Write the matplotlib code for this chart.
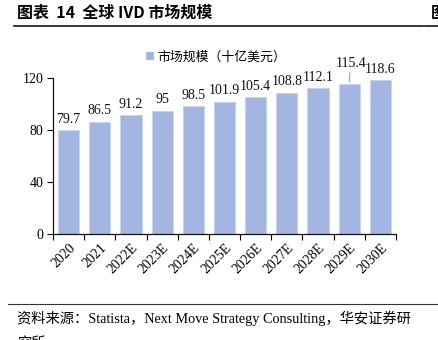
import matplotlib.pyplot as plt
from matplotlib.lines import Line2D
from matplotlib.patches import Patch

# =====================================================
# DATA
# =====================================================

years = ["2020", "2021", "2022E", "2023E", "2024E", "2025E",
         "2026E", "2027E", "2028E", "2029E", "2030E"]
market_size = [79.7, 86.5, 91.2, 95, 98.5, 101.9,
               105.4, 108.8, 112.1, 115.4, 118.6]
value_labels = ["79.7", "86.5", "91.2", "95", "98.5", "101.9",
                "105.4", "108.8", "112.1", "115.4", "118.6"]
y_ticks = [0, 40, 80, 120]

title_text = "图表  14  全球 IVD 市场规模"
legend_text = "市场规模（十亿美元）"
source_text = "资料来源：Statista，Next Move Strategy Consulting，华安证券研"
source_text_2 = "究所"

# =====================================================
# STYLE
# =====================================================

mixed_font = ["Liberation Serif", "Noto Sans CJK SC"]
cjk_font = ["Noto Sans CJK SC", "Liberation Serif"]
bar_color = "#A3B6E1"
W, H = 439, 340

fig = plt.figure(figsize=(W / 100, H / 100), dpi=100)
ax = fig.add_axes([53 / W, 1 - 234 / H, (396 - 53) / W, (234 - 78) / H])

x = list(range(len(years)))
ax.bar(x, market_size, width=0.68, color=bar_color,
       edgecolor="#C4D2EE", linewidth=0.6, zorder=2)

# value labels
for i, (v, lab) in enumerate(zip(market_size, value_labels)):
    if i == 9:
        ax.annotate(lab, xy=(i, v + 1.5), xytext=(1, 9),
                    textcoords="offset points", ha="center", va="bottom",
                    fontsize=10, family=mixed_font, color="#111111",
                    arrowprops=dict(arrowstyle="-", color="#888888",
                                    lw=0.6, shrinkA=0, shrinkB=0))
    else:
        ax.annotate(lab, xy=(i, v), xytext=(0, 3),
                    textcoords="offset points", ha="center", va="bottom",
                    fontsize=10, family=mixed_font, color="#111111")

# axes
ax.set_xlim(-0.5, len(years) - 0.5)
ax.set_ylim(0, 120)
ax.set_yticks(y_ticks)
ax.set_yticklabels([str(t) for t in y_ticks], family=mixed_font, fontsize=10)
ax.set_xticks(x)
ax.set_xticklabels(years, rotation=45, ha="right", rotation_mode="anchor",
                   family=mixed_font, fontsize=10)
ax.set_xticks([i - 0.5 for i in range(len(years) + 1)], minor=True)
ax.tick_params(axis="x", which="major", length=0, pad=5)
ax.tick_params(axis="x", which="minor", length=4, width=0.8, direction="out")
ax.tick_params(axis="y", length=4, width=0.8, direction="out", pad=3)

for side in ["top", "right"]:
    ax.spines[side].set_visible(False)
for side in ["left", "bottom"]:
    ax.spines[side].set_linewidth(0.9)
    ax.spines[side].set_color("#111111")

# legend
handle = Patch(facecolor=bar_color, edgecolor="none")
fig.legend([handle], [legend_text], loc="center",
           bbox_to_anchor=(216 / W, 1 - 57 / H), frameon=False,
           prop={"family": cjk_font, "size": 9.3},
           handlelength=0.6, handleheight=0.6, handletextpad=0.3)

# =====================================================
# TITLE / SOURCE
# =====================================================

fig.text(17 / W, 1 - 13 / H, title_text, ha="left", va="center",
         fontsize=11.5, fontweight="bold", family=cjk_font)
fig.text(431 / W, 1 - 13 / H, "图", ha="left", va="center",
         fontsize=11.5, fontweight="bold", family=cjk_font)

fig.add_artist(Line2D([14 / W, 423 / W], [1 - 26 / H, 1 - 26 / H],
                      color="#111111", lw=1.2))
fig.add_artist(Line2D([425 / W, 1.0], [1 - 26 / H, 1 - 26 / H],
                      color="#111111", lw=1.2))
fig.add_artist(Line2D([8 / W, 1.0], [1 - 304 / H, 1 - 304 / H],
                      color="#333333", lw=0.8))

fig.text(17 / W, 1 - 318 / H, source_text, ha="left", va="center",
         fontsize=10.3, family=mixed_font)
fig.text(17 / W, 1 - 343 / H, source_text_2, ha="left", va="center",
         fontsize=10.3, family=cjk_font)

fig.savefig("out.png", dpi=100)
